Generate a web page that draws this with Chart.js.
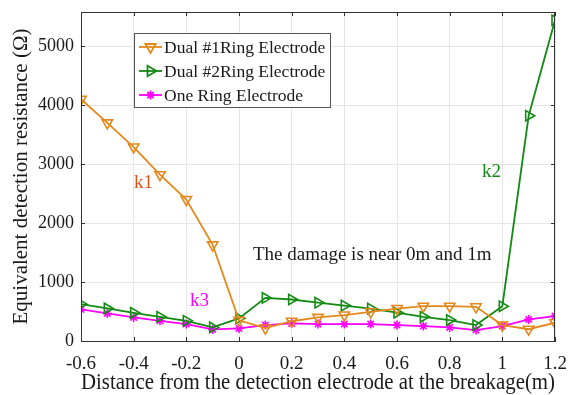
<!DOCTYPE html>
<html>
<head>
<meta charset="utf-8">
<script src="https://cdn.jsdelivr.net/npm/chart.js@4/dist/chart.umd.min.js"></script>
<style>
  html, body { margin: 0; padding: 0; background: #fff; }
  #wrap { width: 570px; height: 395px; position: relative; }
</style>
</head>
<body>
<div id="wrap"><canvas id="chart"></canvas></div>
<script>
/* ── Data ── */
const X_VALUES = [-0.6, -0.5, -0.4, -0.3, -0.2, -0.1, 0, 0.1, 0.2, 0.3, 0.4, 0.5, 0.6, 0.7, 0.8, 0.9, 1.0, 1.1, 1.2];
const DUAL1    = [4100, 3700, 3290, 2820, 2400, 1630, 350, 220, 335, 400, 440, 495, 550, 590, 590, 580, 270, 200, 310];
const DUAL2    = [625, 552, 478, 411, 343, 231, 383, 731, 704, 650, 600, 550, 480, 410, 355, 270, 590, 3820, 5440];
const ONE_RING = [535, 467, 400, 343, 287, 197, 214, 270, 298, 287, 287, 287, 270, 253, 230, 185, 253, 366, 422];

const SERIES_LABELS = ['Dual #1Ring Electrode', 'Dual #2Ring Electrode', 'One Ring Electrode'];
const X_TICKS = [-0.6, -0.4, -0.2, 0, 0.2, 0.4, 0.6, 0.8, 1, 1.2];
const Y_TICKS = [0, 1000, 2000, 3000, 4000, 5000];

/* ── Constants ── */
const FONT   = '"Liberation Serif", "Times New Roman", serif';
const ORANGE = '#E4891C';
const GREEN  = '#138A13';
const PINK   = '#FF00FF';
const GRID   = '#E6E6E6';
const AXIS   = '#333';
const TEXT   = '#1a1a1a';

const pts = ys => X_VALUES.map((x, i) => ({ x, y: ys[i] }));

/* ── Box, inward ticks, legend and notes ── */
const extrasPlugin = {
  id: 'extras',
  afterDraw(chart) {
    const { ctx, chartArea: a, scales } = chart;
    ctx.save();

    // box with inward ticks
    ctx.strokeStyle = AXIS;
    ctx.lineWidth = 1;
    ctx.strokeRect(a.left + 0.5, a.top + 0.5, a.right - a.left - 1, a.bottom - a.top);
    ctx.beginPath();
    X_TICKS.forEach(t => {
      const x = Math.round(scales.x.getPixelForValue(t)) + 0.5;
      ctx.moveTo(x, a.bottom); ctx.lineTo(x, a.bottom - 4);
      ctx.moveTo(x, a.top);    ctx.lineTo(x, a.top + 4);
    });
    Y_TICKS.forEach(t => {
      const y = Math.round(scales.y.getPixelForValue(t)) + 0.5;
      ctx.moveTo(a.left, y);  ctx.lineTo(a.left + 4, y);
      ctx.moveTo(a.right, y); ctx.lineTo(a.right - 4, y);
    });
    ctx.stroke();

    // legend
    const lx = 134, ly = 33, lw = 196, lh = 74;
    ctx.fillStyle = '#fff';
    ctx.fillRect(lx, ly, lw, lh);
    ctx.strokeStyle = '#555';
    ctx.strokeRect(lx + 0.5, ly + 0.5, lw, lh);
    const rows = [47, 71, 95];
    chart.data.datasets.forEach((ds, i) => {
      const y = rows[i];
      ctx.strokeStyle = ds.borderColor;
      ctx.lineWidth = 1.8;
      ctx.beginPath();
      ctx.moveTo(139, y); ctx.lineTo(162, y);
      ctx.stroke();
      ctx.fillStyle = 'rgba(0,0,0,0)';
      Chart.helpers.drawPoint(ctx, {
        pointStyle: ds.pointStyle,
        rotation: ds.pointRotation || 0,
        radius: ds.pointRadius,
        borderWidth: ds.pointBorderWidth,
      }, 150.5, y);
      ctx.fillStyle = TEXT;
      ctx.font = '17.5px ' + FONT;
      ctx.textAlign = 'left';
      ctx.textBaseline = 'middle';
      ctx.fillText(ds.label, 164, y + 1);
    });

    // notes
    ctx.textBaseline = 'middle';
    ctx.textAlign = 'left';
    ctx.font = '19px ' + FONT;
    ctx.fillStyle = '#D9541A';
    ctx.fillText('k1', 134, 183);
    ctx.fillStyle = GREEN;
    ctx.fillText('k2', 482, 172);
    ctx.fillStyle = PINK;
    ctx.fillText('k3', 190, 301);
    ctx.fillStyle = TEXT;
    ctx.fillText('The damage is near 0m and 1m', 253, 255);

    ctx.restore();
  },
};

/* ── Chart ── */
new Chart(document.getElementById('chart'), {
  type: 'line',
  plugins: [extrasPlugin],
  data: {
    datasets: [
      {
        label: SERIES_LABELS[0],
        data: pts(DUAL1),
        borderColor: ORANGE,
        borderWidth: 1.8,
        pointStyle: 'triangle',
        pointRotation: 180,
        pointRadius: 6,
        pointBorderWidth: 1.6,
        pointBorderColor: ORANGE,
        pointBackgroundColor: 'rgba(0,0,0,0)',
      },
      {
        label: SERIES_LABELS[1],
        data: pts(DUAL2),
        borderColor: GREEN,
        borderWidth: 1.8,
        pointStyle: 'triangle',
        pointRotation: 90,
        pointRadius: 6,
        pointBorderWidth: 1.6,
        pointBorderColor: GREEN,
        pointBackgroundColor: 'rgba(0,0,0,0)',
      },
      {
        label: SERIES_LABELS[2],
        data: pts(ONE_RING),
        borderColor: PINK,
        borderWidth: 1.8,
        pointStyle: 'star',
        pointRadius: 4.5,
        pointBorderWidth: 1.6,
        pointBorderColor: PINK,
        pointBackgroundColor: 'rgba(0,0,0,0)',
      },
    ],
  },
  options: {
    responsive: true,
    maintainAspectRatio: false,
    animation: false,
    layout: { padding: { top: 12, right: 15, left: 0, bottom: 0 } },
    plugins: {
      legend: { display: false },
      tooltip: { enabled: false },
    },
    scales: {
      x: {
        type: 'linear',
        min: -0.6,
        max: 1.2,
        afterBuildTicks: s => { s.ticks = X_TICKS.map(v => ({ value: v })); },
        afterFit: s => { s.height = 54; s.paddingLeft = 0; s.paddingRight = 0; },
        grid: { color: GRID, drawTicks: false },
        border: { color: AXIS },
        ticks: {
          color: TEXT,
          padding: 12,
          maxRotation: 0,
          font: { family: FONT, size: 19 },
          callback: v => String(Math.round(v * 10) / 10),
        },
        title: {
          display: true,
          text: 'Distance from the detection electrode at the breakage(m)',
          color: TEXT,
          font: { family: FONT, size: 22.5, lineHeight: 1 },
          padding: { top: 0, bottom: 1 },
        },
      },
      y: {
        min: 0,
        max: 5580,
        afterBuildTicks: s => { s.ticks = Y_TICKS.map(v => ({ value: v })); },
        afterFit: s => { s.width = 81; s.paddingTop = 0; s.paddingBottom = 0; },
        grid: { color: GRID, drawTicks: false },
        border: { color: AXIS },
        ticks: {
          color: TEXT,
          padding: 7,
          font: { family: FONT, size: 18 },
          callback: v => String(v),
        },
        title: {
          display: true,
          text: 'Equivalent detection resistance (Ω)',
          color: TEXT,
          font: { family: FONT, size: 21 },
          padding: { top: 9, bottom: 0 },
        },
      },
    },
  },
});
</script>
</body>
</html>
